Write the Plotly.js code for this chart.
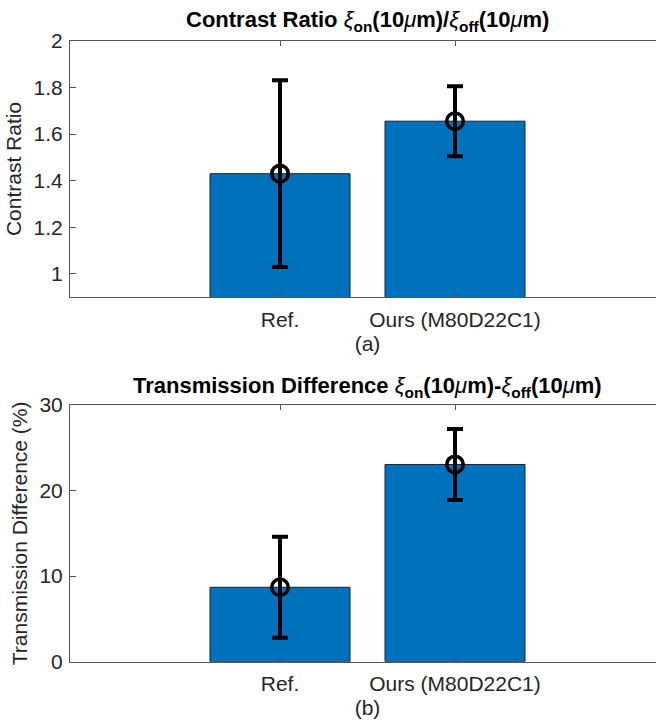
<!DOCTYPE html>
<html><head><meta charset="utf-8">
<script src="https://cdn.plot.ly/plotly-3.0.1.min.js"></script>
<style>html,body{margin:0;padding:0;overflow:hidden;background:#fff;width:656px;height:721px}#chart{width:680px;height:721px}</style>
</head><body><div id="chart"></div>
<script>
const categories = ['Ref.', 'Ours (M80D22C1)'];
const contrastRatio = [1.43, 1.655];
const contrastRatioErr = [0.40, 0.15];
const transDiff = [8.7, 23.05];
const transDiffErr = [5.9, 4.15];
const contrastTicks = [1, 1.2, 1.4, 1.6, 1.8, 2];
const transTicks = [0, 10, 20, 30];
const subLabels = ['(a)', '(b)'];
const yTitles = ['Contrast Ratio', 'Transmission Difference (%)'];
const plotTitles = [
  '<b>Contrast Ratio </b><i>ξ</i><sub><b>on</b></sub><b>(10</b><i>μ</i><b>m)/</b><i>ξ</i><sub><b>off</b></sub><b>(10</b><i>μ</i><b>m)</b>',
  '<b>Transmission Difference </b><i>ξ</i><sub><b>on</b></sub><b>(10</b><i>μ</i><b>m)-</b><i>ξ</i><sub><b>off</b></sub><b>(10</b><i>μ</i><b>m)</b>'
];

const FONT = 'Liberation Sans, Arial, Helvetica, sans-serif';
const TXT = '#262626';
const AX = '#555555';
const BAR = '#0072BD';

function barTrace(y, xa, ya) {
  return {type: 'bar', x: categories, y: y, width: 0.8, xaxis: xa, yaxis: ya,
    marker: {color: BAR, line: {color: '#10263a', width: 1}}, hoverinfo: 'skip'};
}
function errTrace(y, e, xa, ya) {
  return {type: 'scatter', mode: 'markers', x: categories, y: y, xaxis: xa, yaxis: ya,
    error_y: {type: 'data', array: e, visible: true, color: '#000', thickness: 4, width: 8},
    marker: {symbol: 'circle-open', size: 16.5, color: '#000', line: {color: '#000', width: 3.6}},
    cliponaxis: false, hoverinfo: 'skip'};
}

const data = [
  barTrace(contrastRatio, 'x', 'y'),
  errTrace(contrastRatio, contrastRatioErr, 'x', 'y'),
  barTrace(transDiff, 'x2', 'y2'),
  errTrace(transDiff, transDiffErr, 'x2', 'y2')
];

function xAxis(anchor, label) {
  return {anchor: anchor, domain: [0, 1], type: 'category', range: [-1.2, 2.2],
    showline: true, linecolor: AX, linewidth: 1, mirror: 'ticks',
    ticks: 'inside', ticklen: 5, tickcolor: AX, tickwidth: 1,
    tickfont: {family: FONT, size: 21, color: TXT}, ticklabelstandoff: 3,
    showgrid: false, zeroline: false, fixedrange: true,
    title: {text: label, font: {family: FONT, size: 21, color: TXT}, standoff: 6}};
}
function yAxis(anchor, domain, range, ticks, title) {
  return {anchor: anchor, domain: domain, range: range, tickmode: 'array', tickvals: ticks,
    showline: true, linecolor: AX, linewidth: 1, mirror: 'ticks',
    ticks: 'inside', ticklen: 6, tickcolor: AX, tickwidth: 1,
    tickfont: {family: FONT, size: 21, color: TXT}, ticklabelstandoff: 2,
    showgrid: false, zeroline: false, fixedrange: true,
    title: {text: title, font: {family: FONT, size: 21, color: TXT}, standoff: 6}};
}

const H = 721;
const layout = {
  width: 680, height: H,
  margin: {l: 70, r: 15, t: 0, b: 0},
  paper_bgcolor: '#fff', plot_bgcolor: '#fff',
  showlegend: false,
  font: {family: FONT, color: TXT},
  xaxis: xAxis('y', subLabels[0]),
  yaxis: yAxis('x', [1 - 297.3 / H, 1 - 40.7 / H], [0.9, 2], contrastTicks, yTitles[0]),
  xaxis2: xAxis('y2', subLabels[1]),
  yaxis2: yAxis('x2', [1 - 661.7 / H, 1 - 405 / H], [0, 30], transTicks, yTitles[1]),
  annotations: [
    {text: plotTitles[0], xref: 'paper', yref: 'paper', x: 0.5, y: 1 - 21 / H,
     xanchor: 'center', yanchor: 'middle', showarrow: false,
     font: {family: FONT, size: 22, color: '#000'}},
    {text: plotTitles[1], xref: 'paper', yref: 'paper', x: 0.5, y: 1 - 387 / H,
     xanchor: 'center', yanchor: 'middle', showarrow: false,
     font: {family: FONT, size: 22, color: '#000'}}
  ]
};

Plotly.newPlot('chart', data, layout, {displayModeBar: false, staticPlot: true});
</script>
</body></html>
